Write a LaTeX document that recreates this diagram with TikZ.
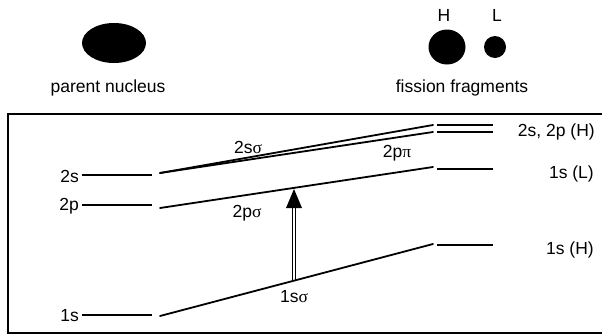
\documentclass[tikz,border=0pt]{standalone}
\usepackage{fontspec}
\setmainfont{Liberation Sans}
\newfontfamily\greekfont{Liberation Serif}
\begin{document}
\begin{tikzpicture}[x=1pt,y=-1pt,
  lbl/.style={inner sep=0pt,font=\fontsize{17.5}{20}\selectfont},
  lvl/.style={line width=1.8pt},
  corr/.style={line width=1.8pt,line cap=round}]
\useasboundingbox (0,0) rectangle (602,335);

% nuclei
\fill (114,43) ellipse [x radius=32, y radius=20];
\fill (447,47) ellipse [x radius=18.5, y radius=17.5];
\fill (495,47) circle [radius=11];
\node[lbl] (pn) at (108,88) {parent nucleus};
\node[lbl] (ff) at (462,88) {fission fragments};
\node[lbl] (hl) at (444,15) {H};
\node[lbl] (ll) at (497,15) {L};

% frame
\draw[line width=1.8pt] (603,114) -- (8,114) -- (8,333) -- (603,333);

% atomic levels of the parent nucleus
\coordinate (s2a) at (82,175);  \coordinate (s2b) at (152,175);
\coordinate (p2a) at (82,205);  \coordinate (p2b) at (152,205);
\coordinate (s1a) at (82,315);  \coordinate (s1b) at (152,315);
\draw[lvl] (s2a) -- (s2b);
\draw[lvl] (p2a) -- (p2b);
\draw[lvl] (s1a) -- (s1b);
\node[lbl,anchor=east] (t2s) at (79,176) {2s};
\node[lbl,anchor=east] (t2p) at (79,206) {2p};
\node[lbl,anchor=east] (t1s) at (79,316) {1s};

% levels of the fragments
\coordinate (ra1) at (437,125); \coordinate (rb1) at (493,125);
\coordinate (ra2) at (437,132); \coordinate (rb2) at (493,132);
\coordinate (ra3) at (437,169); \coordinate (rb3) at (493,169);
\coordinate (ra4) at (437,245); \coordinate (rb4) at (493,245);
\draw[lvl] (ra1) -- (rb1);
\draw[lvl] (ra2) -- (rb2);
\draw[lvl] (ra3) -- (rb3);
\draw[lvl] (ra4) -- (rb4);
\node[lbl,anchor=east] (t2sh) at (595,132) {2s, 2p (H)};
\node[lbl,anchor=east] (t1sl) at (594,174) {1s (L)};
\node[lbl,anchor=east] (t1sh) at (594,250) {1s (H)};

% molecular correlation lines
\coordinate (m2s) at (160,173);
\coordinate (m2p) at (160,208);
\coordinate (m1s) at (160,316);
\coordinate (e2pi) at (433,125);
\coordinate (e2s) at (433,132);
\coordinate (e2p) at (433,167);
\coordinate (e1s) at (433,244);
\draw[corr] (m2s) -- (e2pi);
\draw[corr] (m2s) -- (e2s);
\draw[corr] (m2p) -- (e2p);
\draw[corr] (m1s) -- (e1s);
\node[lbl] (l2ss) at (248,147) {2s{\greekfont σ}};
\node[lbl] (l2pp) at (397,153) {2p{\greekfont π}};
\node[lbl] (l2ps) at (247,213) {2p{\greekfont σ}};
\node[lbl] (l1ss) at (294,297) {1s{\greekfont σ}};

% excitation arrow 1s sigma -> 2p sigma
\coordinate (abot) at (294,281);
\coordinate (abase) at (294,208);
\coordinate (atip) at (294,189);
\draw[line width=1pt] ([xshift=-1.7pt]abot) -- ([xshift=-1.7pt]abase);
\draw[line width=1pt] ([xshift=1.7pt]abot) -- ([xshift=1.7pt]abase);
\fill ([xshift=-8pt]abase) -- ([xshift=8pt]abase) -- (atip) -- cycle;
\end{tikzpicture}
\end{document}
